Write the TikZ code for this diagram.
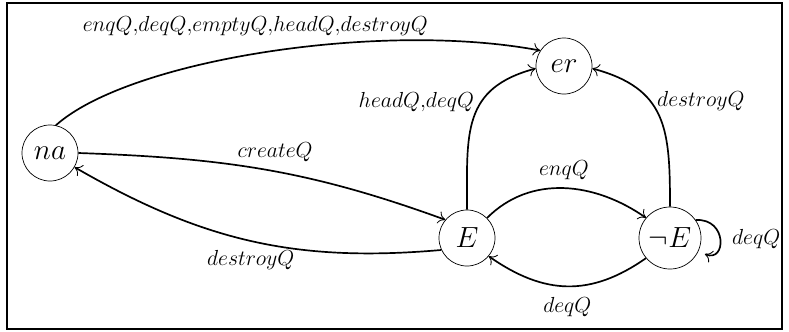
\RequirePackage{fix-cm}
\documentclass[tikz,border=0pt]{standalone}
\usepackage{amsmath}
\usepackage{amssymb}
\usepackage{tikz}
\usetikzlibrary{arrows.meta}

\begin{document}
\begin{tikzpicture}[x=0.025cm,y=-0.025cm,
  stato/.style={circle,draw,line width=0.5pt,minimum size=1.4cm,inner sep=0pt,font=\huge},
  freccia/.style={line width=1.2pt,-{To[line width=0.6pt,length=5pt,width=9pt]}},
  etichetta/.style={font=\fontsize{15.5}{18}\selectfont}]
\useasboundingbox (0,0) rectangle (789,331);
% riquadro
\draw[line width=1.5pt] (7,3) rectangle (782,329);

% stati
\node[stato] (na) at (50,153) {$na$};
\node[stato] (er) at (564,66) {$er$};
\node[stato] (E) at (467,238) {$E$};
\node[stato,minimum size=1.55cm] (nE) at (670,238) {$\neg E$};

% frecce
\draw[freccia] (na.78) .. controls +(74,-66) and +(-158,-30) .. (er.147)
  node[etichetta,pos=0.48,above=9pt] {$enqQ{,}deqQ{,}emptyQ{,}headQ{,}destroyQ$};
\draw[freccia] (na.east) to[out=-2,in=160]
  node[etichetta,pos=0.53,above=3pt] {$createQ$} (E.140);
\draw[freccia] (E.205) to[out=185,in=-30]
  node[etichetta,pos=0.5,below=3pt] {$destroyQ$} (na.-30);
\draw[freccia] (E.north) to[out=90,in=195,looseness=1.25]
  node[etichetta,pos=0.62,left=1pt] {$headQ{,}deqQ$} (er.185);
\draw[freccia] (nE.north) to[out=90,in=-15,looseness=1.25]
  node[etichetta,pos=0.62,right=1pt] {$destroyQ$} (er.-5);
\draw[freccia] (E.45) to[out=45,in=145]
  node[etichetta,midway,above=2pt] {$enqQ$} (nE.140);
\draw[freccia] (nE.220) to[out=215,in=-35,looseness=1.1]
  node[etichetta,midway,below=4pt] {$deqQ$} (E.-40);
\draw[freccia,shorten >=5pt] (nE.35) .. controls +(32,-2) and +(28,12) .. (nE.-25)
  node[etichetta,pos=0.5,right=5pt] {$deqQ$};
\end{tikzpicture}
\end{document}
